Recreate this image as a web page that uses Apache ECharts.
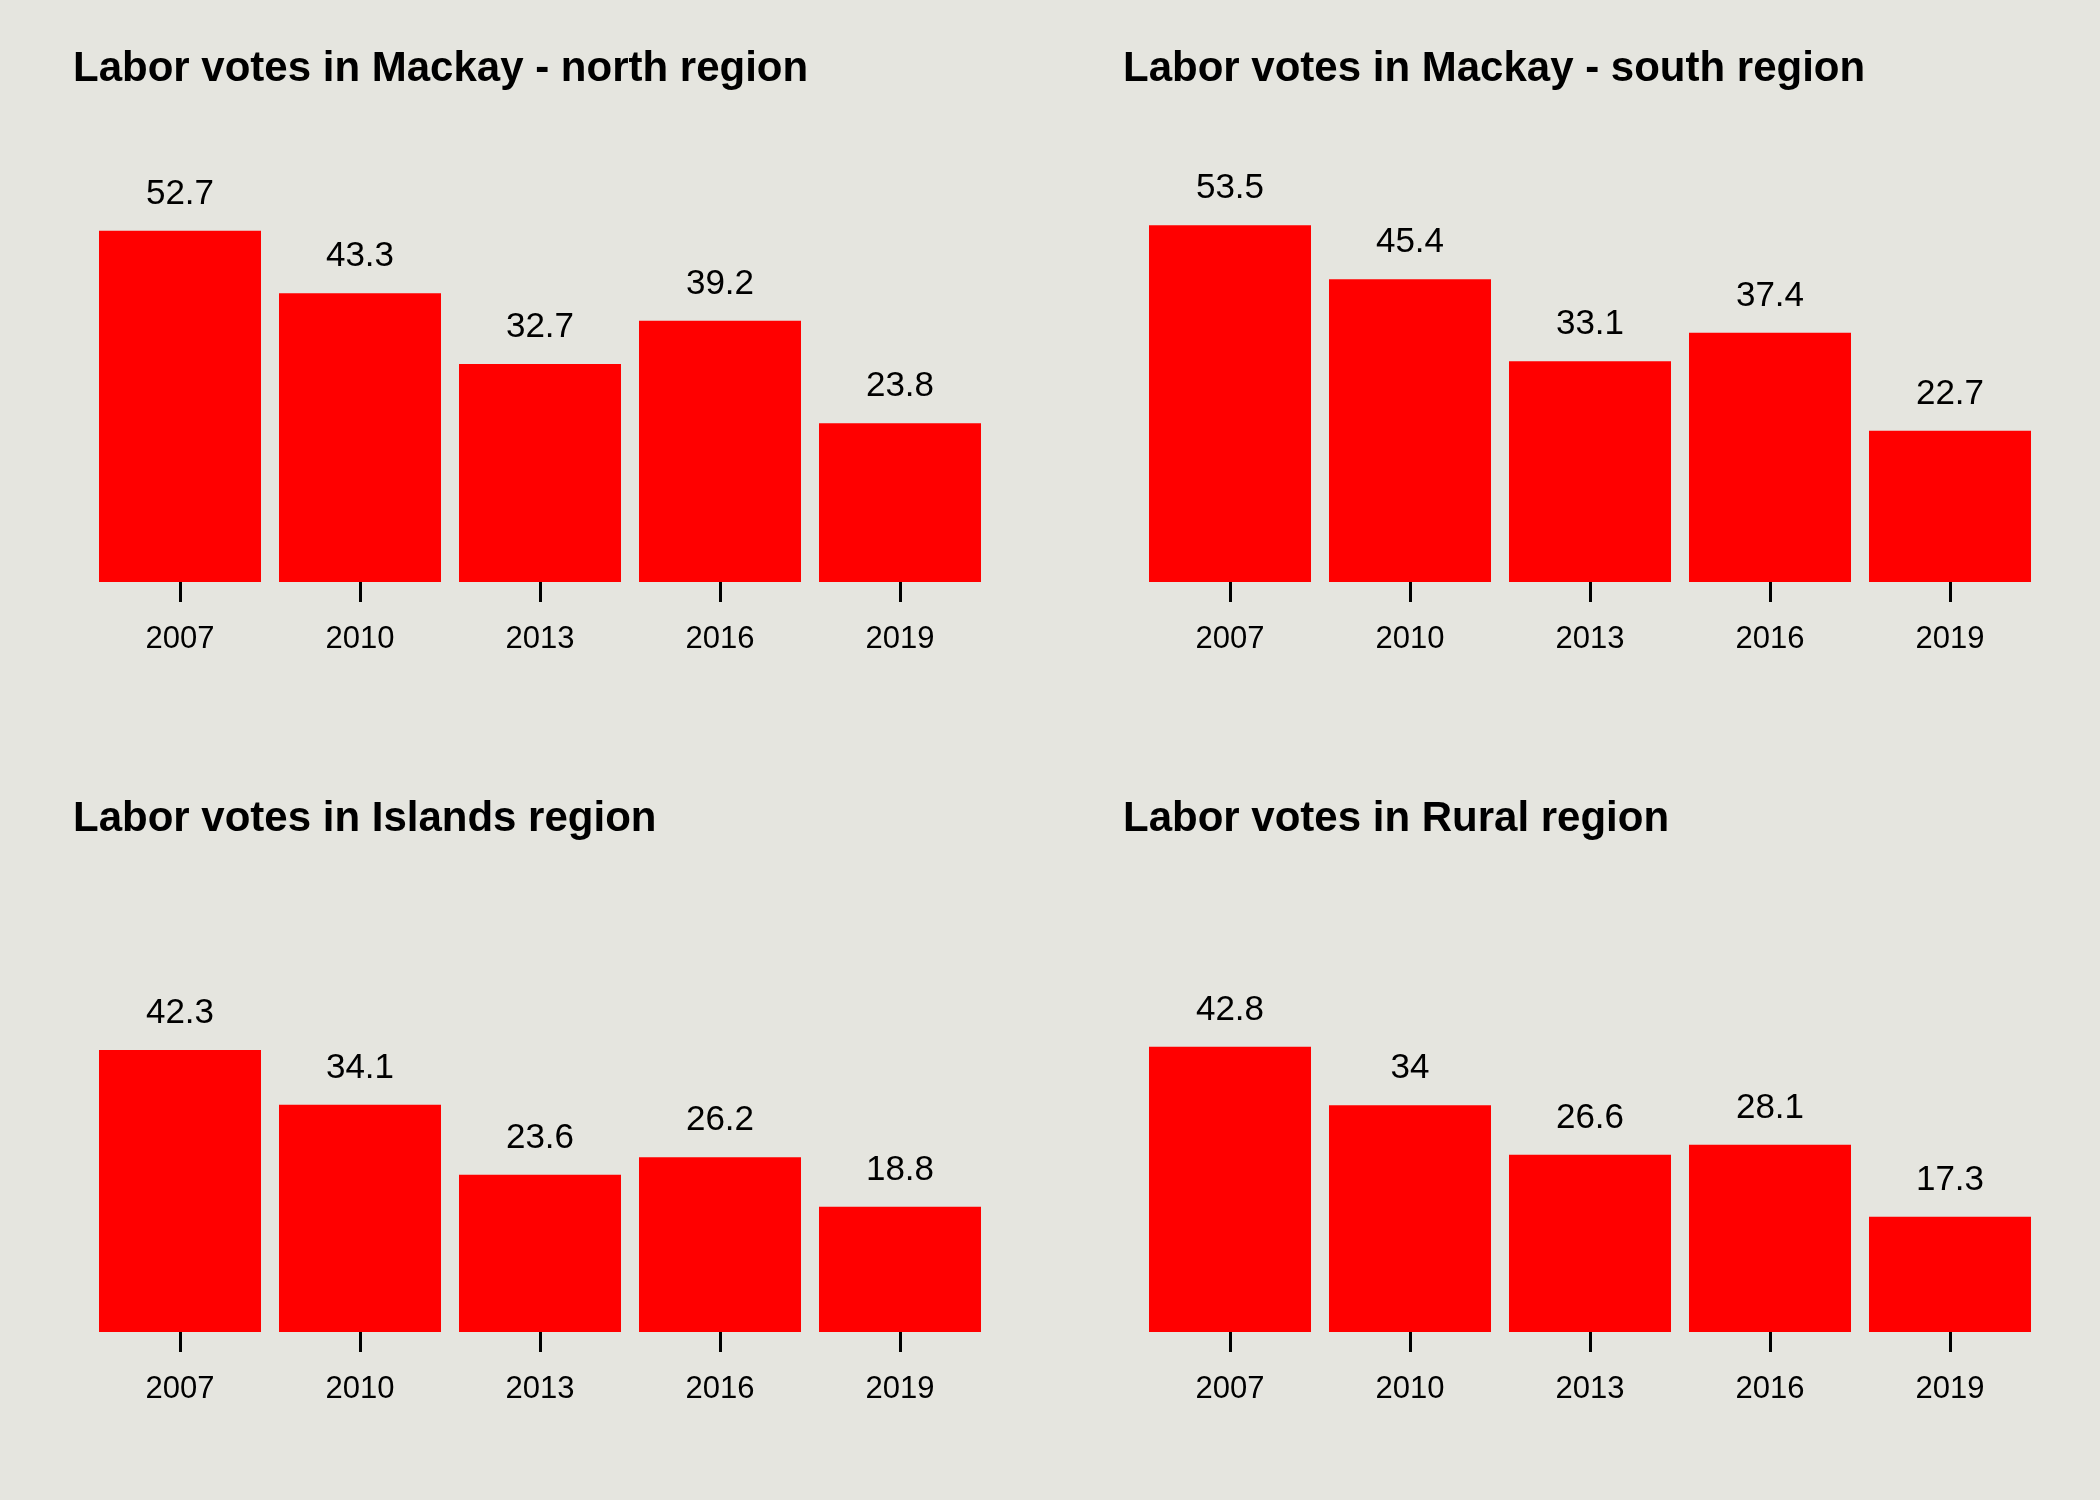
<!DOCTYPE html>
<html>
<head>
<meta charset="utf-8">
<script src="https://cdn.jsdelivr.net/npm/echarts@6/dist/echarts.min.js"></script>
<style>
html,body{margin:0;padding:0;background:#e5e5df;}
#chart{width:2100px;height:1500px;}
</style>
</head>
<body>
<div id="chart"></div>
<script>
const years = ['2007', '2010', '2013', '2016', '2019'];
const northValues = [52.7, 43.3, 32.7, 39.2, 23.8];
const southValues = [53.5, 45.4, 33.1, 37.4, 22.7];
const islandsValues = [42.3, 34.1, 23.6, 26.2, 18.8];
const ruralValues = [42.8, 34, 26.6, 28.1, 17.3];
const panelTitles = [
  'Labor votes in Mackay - north region',
  'Labor votes in Mackay - south region',
  'Labor votes in Islands region',
  'Labor votes in Rural region'
];
const panelValues = [northValues, southValues, islandsValues, ruralValues];

const chart = echarts.init(document.getElementById('chart'), null, {renderer: 'canvas'});
const fontFam = '"Liberation Sans", Arial, sans-serif';
const panels = [[0,0],[1050,0],[0,750],[1050,750]];
const grids = [], xAxes = [], yAxes = [], series = [], titles = [];
panels.forEach(([ox, oy], i) => {
  titles.push({
    text: panelTitles[i], left: ox + 68, top: oy + 43,
    textStyle: {fontFamily: fontFam, fontSize: 42, fontWeight: 'bold', color: '#000'}
  });
  grids.push({left: ox + 90, width: 900, top: oy + 182, height: 400});
  xAxes.push({
    type: 'category', gridIndex: i, data: years,
    axisLine: {show: false},
    axisTick: {show: true, alignWithLabel: true, length: 20, lineStyle: {color: '#000', width: 3}},
    axisLabel: {fontFamily: fontFam, fontSize: 31, color: '#000', margin: 42},
    splitLine: {show: false}
  });
  yAxes.push({
    type: 'value', gridIndex: i, min: 0, max: 60, show: false, splitLine: {show: false}
  });
  series.push({
    type: 'bar', xAxisIndex: i, yAxisIndex: i, data: panelValues[i],
    barCategoryGap: '10%',
    itemStyle: {color: '#ff0000'},
    label: {show: true, position: 'top', distance: 19, fontFamily: fontFam, fontSize: 35, color: '#000'},
    animation: false
  });
});
chart.setOption({
  backgroundColor: '#e5e5df',
  animation: false,
  title: titles, grid: grids, xAxis: xAxes, yAxis: yAxes, series: series
});
</script>
</body>
</html>
